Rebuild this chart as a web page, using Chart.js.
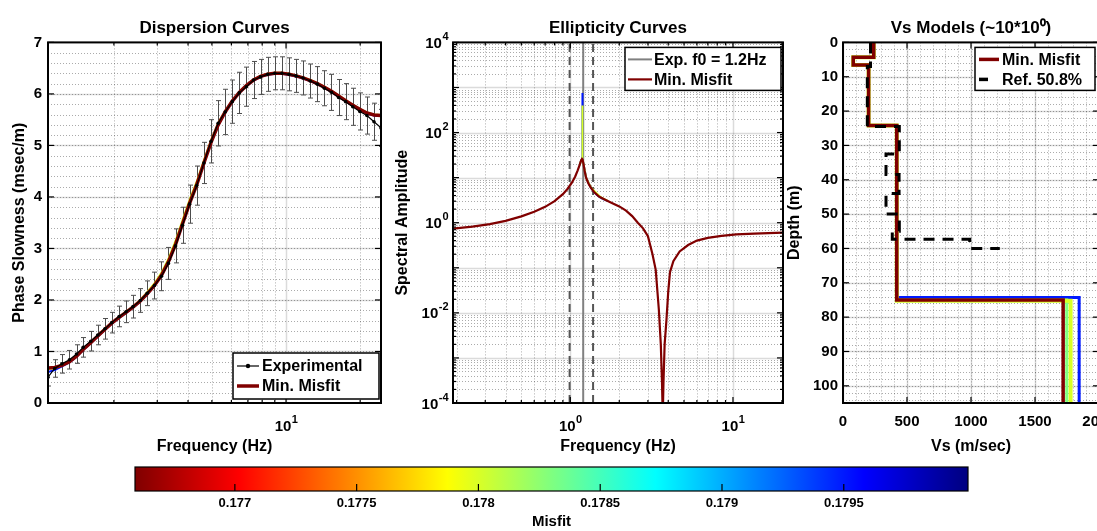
<!DOCTYPE html>
<html lang="en">
<head>
<meta charset="UTF-8">
<title>Inversion Results</title>
<script src="https://cdn.jsdelivr.net/npm/chart.js"></script>
<style>
    html, body { margin: 0; padding: 0; background: #fff; overflow: hidden; }
    #wrap { position: relative; width: 1097px; height: 531px; overflow: hidden; }
    canvas { position: absolute; }
    #dispChart { left: 0; top: 0; }
    #ellChart { left: 385px; top: 0; }
    #vsChart { left: 780px; top: 0; }
    #cbarChart { left: 100px; top: 455px; }
</style>
</head>
<body>
<div id="wrap">
    <canvas id="dispChart" width="395" height="460"></canvas>
    <canvas id="ellChart" width="405" height="460"></canvas>
    <canvas id="vsChart" width="330" height="460"></canvas>
    <canvas id="cbarChart" width="900" height="76"></canvas>
</div>
<script>
// ---- misfit range (colour scale) ----
const misfitMin = 0.17659;
const misfitMax = 0.18001;
const cbarTicks = [0.177, 0.1775, 0.178, 0.1785, 0.179, 0.1795];
const bestMisfit = 0.17659;
const altMisfit = [0.1780, 0.1783, 0.1795];   // yellow, green, blue models

// ---- dispersion: experimental picks ----
const dispFreq = [1.08, 1.15, 1.23, 1.32, 1.41, 1.5, 1.61, 1.72, 1.84, 1.96, 2.1, 2.24, 2.39, 2.56, 2.73, 2.92,
    3.12, 3.33, 3.56, 3.8, 4.06, 4.34, 4.64, 4.96, 5.3, 5.66, 6.05, 6.46, 6.9, 7.38, 7.88, 8.42,
    9.0, 9.62, 10.28, 10.98, 11.73, 12.54, 13.4, 14.31, 15.29, 16.34, 17.46, 18.66, 19.93, 21.3, 22.76, 24.3];
const expSlow = [0.50, 0.67, 0.76, 0.84, 0.95, 1.08, 1.2, 1.32, 1.44, 1.56, 1.68, 1.77, 1.87, 1.99, 2.13, 2.28,
    2.46, 2.71, 3.05, 3.45, 3.86, 4.22, 4.66, 5.08, 5.43, 5.65, 5.85, 6.02, 6.14, 6.27, 6.33, 6.38,
    6.40, 6.40, 6.38, 6.35, 6.31, 6.25, 6.19, 6.11, 6.03, 5.93, 5.85, 5.75, 5.66, 5.58, 5.46, 5.34];
const expErr = [0.17, 0.17, 0.18, 0.18, 0.18, 0.19, 0.19, 0.19, 0.2, 0.2, 0.2, 0.21, 0.22, 0.23, 0.24, 0.26,
    0.28, 0.31, 0.33, 0.35, 0.37, 0.38, 0.4, 0.42, 0.44, 0.44, 0.42, 0.4, 0.38, 0.36, 0.34, 0.33,
    0.32, 0.32, 0.32, 0.32, 0.33, 0.33, 0.34, 0.34, 0.35, 0.35, 0.35, 0.36, 0.36, 0.36, 0.36, 0.36];
// theoretical curves of the models
const bestSlow = [0.68, 0.69, 0.73, 0.8, 0.91, 1.04, 1.17, 1.3, 1.43, 1.55, 1.66, 1.76, 1.86, 1.98, 2.12, 2.28,
    2.48, 2.74, 3.08, 3.48, 3.88, 4.24, 4.66, 5.06, 5.4, 5.65, 5.86, 6.03, 6.16, 6.27, 6.34, 6.38,
    6.40, 6.40, 6.38, 6.35, 6.31, 6.26, 6.2, 6.13, 6.05, 5.96, 5.87, 5.78, 5.70, 5.63, 5.59, 5.58];
const yellowSlow = [0.66, 0.68, 0.73, 0.81, 0.92, 1.05, 1.18, 1.31, 1.44, 1.56, 1.67, 1.77, 1.87, 2.0, 2.15, 2.32,
    2.53, 2.8, 3.15, 3.55, 3.95, 4.3, 4.71, 5.1, 5.43, 5.67, 5.87, 6.04, 6.17, 6.28, 6.35, 6.39,
    6.41, 6.41, 6.39, 6.36, 6.32, 6.27, 6.21, 6.14, 6.06, 5.97, 5.88, 5.79, 5.71, 5.64, 5.6, 5.59];
const blueSlow = [0.6, 0.64, 0.71, 0.79, 0.9, 1.03, 1.16, 1.29, 1.42, 1.54, 1.65, 1.75, 1.85, 1.97, 2.11, 2.27,
    2.47, 2.73, 3.07, 3.47, 3.87, 4.23, 4.65, 5.05, 5.39, 5.64, 5.85, 6.02, 6.15, 6.26, 6.33, 6.37,
    6.39, 6.39, 6.37, 6.34, 6.30, 6.25, 6.19, 6.12, 6.04, 5.95, 5.86, 5.77, 5.69, 5.62, 5.58, 5.57];

// ---- ellipticity ----
const f0Exp = 1.2;
const f0Low = 0.99;
const f0High = 1.38;
const ellFreq = [0.19, 0.25, 0.32, 0.4, 0.5, 0.6, 0.7, 0.8, 0.9, 0.96, 1.02, 1.07, 1.11, 1.14, 1.165, 1.18, 1.19,
    1.205, 1.225, 1.25, 1.29, 1.34, 1.4, 1.5, 1.65, 1.8, 2.0, 2.2, 2.4, 2.6, 2.8, 3.0, 3.2, 3.35, 3.5,
    3.6, 3.66, 3.7, 3.74, 3.8, 3.9, 4.0, 4.1, 4.3, 4.7, 5.3, 6.0, 7.0, 8.5, 10.5, 13.5, 16.5, 20.3];
const ellAmp = [0.74, 0.82, 0.93, 1.1, 1.38, 1.75, 2.25, 3.0, 4.3, 5.6, 7.6, 10.5, 14.5, 19, 24, 26, 25,
    20, 14, 10, 7.5, 5.9, 4.8, 3.8, 3.2, 2.75, 2.3, 1.85, 1.4, 1.0, 0.75, 0.5, 0.2, 0.09, 0.012,
    0.002, 0.0003, 0.00005, 0.0003, 0.002, 0.007, 0.03, 0.08, 0.14, 0.23, 0.32, 0.4, 0.46, 0.51, 0.55, 0.57, 0.59, 0.6];
const altEllFreq = [1.14, 1.165, 1.18, 1.185, 1.19, 1.205, 1.25, 1.34, 1.45, 1.55, 1.7];
const yellowAmp = [19, 24, 26, 400, 25, 20, 10, 6.0, 4.5, 3.6, 3.05];
const blueAmp = [19, 24, 26, 750, 25, 20, 10, 5.9, 4.2, 3.5, 3.0];

// ---- Vs profiles (layer top depth in m, Vs in m/s) ----
const maxDepth = 105;
const bestTop = [0, 4.3, 6.6, 24.2, 75];
const bestVs = [240, 80, 200, 420, 1720];
const altHalfTop = [75.2, 75, 74.3];
const altHalfVs = [1778, 1748, 1845];
const refTop = [0, 7, 24.5, 32.5, 38.5, 44, 50, 55, 57.3, 60];
const refVs = [215, 190, 440, 336, 438, 336, 440, 385, 990, 1225];

const FONT = '"Liberation Sans", Arial, Helvetica, sans-serif';
const bold = size => ({ family: FONT, size: size, weight: 'bold' });

// reversed jet: low misfit -> dark red, high -> dark blue
function jet(v) {
    let t = 1 - (v - misfitMin) / (misfitMax - misfitMin);
    t = Math.min(1, Math.max(0, t));
    const c = k => Math.round(255 * Math.min(1, Math.max(0, 1.5 - Math.abs(4 * t - k))));
    return 'rgb(' + c(3) + ',' + c(2) + ',' + c(1) + ')';
}

function steps(a, b, d) {
    const r = [];
    for (let v = a; v <= b + 1e-9; v += d) r.push(+v.toFixed(6));
    return r;
}
function logMinors(lo, hi) {
    const r = [];
    for (let e = Math.floor(Math.log10(lo)); e <= Math.ceil(Math.log10(hi)); e++) {
        for (let k = 2; k <= 9; k++) {
            const v = k * Math.pow(10, e);
            if (v > lo && v < hi) r.push(v);
        }
    }
    return r;
}
const xy = (xs, ys) => xs.map((x, i) => ({ x: x, y: ys[i] }));

// step profile from layer tops / velocities
function profile(tops, vs, bottom) {
    const pts = [];
    tops.forEach((t, i) => {
        const next = i + 1 < tops.length ? tops[i + 1] : bottom;
        pts.push({ x: vs[i], y: t }, { x: vs[i], y: next });
    });
    return pts;
}

// MATLAB style grid, inward ticks and box
const axesBox = {
    id: 'axesBox',
    beforeDatasetsDraw(chart, args, o) {
        if (!o.grid) return;
        const { ctx, chartArea: a, scales: { x, y } } = chart;
        ctx.save();
        ctx.beginPath(); ctx.rect(a.left, a.top, a.width, a.height); ctx.clip();
        const vl = v => { const p = Math.round(x.getPixelForValue(v)) + 0.5; ctx.beginPath(); ctx.moveTo(p, a.top); ctx.lineTo(p, a.bottom); ctx.stroke(); };
        const hl = v => { const p = Math.round(y.getPixelForValue(v)) + 0.5; ctx.beginPath(); ctx.moveTo(a.left, p); ctx.lineTo(a.right, p); ctx.stroke(); };
        ctx.lineWidth = 1;
        ctx.strokeStyle = 'rgba(0,0,0,0.33)';
        ctx.setLineDash([1, 2]);
        o.xMinor.forEach(vl); o.yMinor.forEach(hl);
        ctx.setLineDash([]);
        ctx.lineWidth = 1.5;
        ctx.strokeStyle = 'rgba(0,0,0,0.14)';
        o.xMajor.forEach(vl); o.yMajor.forEach(hl);
        ctx.restore();
    },
    afterDatasetsDraw(chart, args, o) {
        const { ctx, chartArea: a, scales: { x, y } } = chart;
        ctx.save();
        ctx.strokeStyle = '#000';
        ctx.lineWidth = 1.2;
        const seg = (x1, y1, x2, y2) => { ctx.beginPath(); ctx.moveTo(x1, y1); ctx.lineTo(x2, y2); ctx.stroke(); };
        const xt = (vals, len) => vals.forEach(v => {
            const p = x.getPixelForValue(v);
            seg(p, a.bottom, p, a.bottom - len);
            if (!o.bottomOnly) seg(p, a.top, p, a.top + len);
        });
        const yt = (vals, len) => vals.forEach(v => {
            const p = y.getPixelForValue(v);
            seg(a.left, p, a.left + len, p);
            seg(a.right, p, a.right - len, p);
        });
        xt(o.xMajor, o.tick);
        if (o.xMinorTicks) xt(o.xMinor, o.tick / 2);
        if (o.yMajor.length) yt(o.yMajor, o.tick);
        if (o.yMinorTicks) yt(o.yMinor, o.tick / 2);
        ctx.lineWidth = o.frame;
        ctx.strokeRect(a.left, a.top, a.width, a.height);
        ctx.restore();
    }
};

// "10^n" tick labels with a raised exponent for the log axes
const powLabels = {
    id: 'powLabels',
    afterDraw(chart, args, o) {
        const { ctx, chartArea: a, scales } = chart;
        const big = 'bold 15px ' + FONT, small = 'bold 11px ' + FONT;
        ctx.save();
        ctx.fillStyle = '#000';
        ctx.textAlign = 'left';
        ctx.textBaseline = 'alphabetic';
        const draw = (v, cx, baseY, centered) => {
            const e = String(Math.round(Math.log10(v)));
            ctx.font = big; const w1 = ctx.measureText('10').width;
            ctx.font = small; const w2 = ctx.measureText(e).width;
            const left = centered ? cx - (w1 + w2) / 2 : cx - w1 - w2;
            ctx.font = big; ctx.fillText('10', left, baseY);
            ctx.font = small; ctx.fillText(e, left + w1 + 0.5, baseY - 8);
        };
        (o.x || []).forEach(v => draw(v, scales.x.getPixelForValue(v), a.bottom + 28, true));
        (o.y || []).forEach(v => draw(v, a.left - 5, scales.y.getPixelForValue(v) + 5.5, false));
        ctx.restore();
    }
};

// vertical error bars of the experimental curve
const errorBars = {
    id: 'errorBars',
    beforeDatasetsDraw(chart, args, o) {
        const { ctx, chartArea: a, scales: { x, y } } = chart;
        ctx.save();
        ctx.beginPath(); ctx.rect(a.left, a.top, a.width, a.height); ctx.clip();
        ctx.strokeStyle = '#4d4d4d';
        ctx.lineWidth = 1;
        o.x.forEach((f, i) => {
            const px = Math.round(x.getPixelForValue(f)) + 0.5;
            const lo = y.getPixelForValue(o.y[i] - o.err[i]);
            const hi = y.getPixelForValue(o.y[i] + o.err[i]);
            ctx.beginPath();
            ctx.moveTo(px, lo); ctx.lineTo(px, hi);
            ctx.moveTo(px - 2.5, lo); ctx.lineTo(px + 2.5, lo);
            ctx.moveTo(px - 2.5, hi); ctx.lineTo(px + 2.5, hi);
            ctx.stroke();
        });
        ctx.restore();
    }
};

// boxed legend inside the axes
const boxLegend = {
    id: 'boxLegend',
    afterDraw(chart, args, o) {
        const { ctx, chartArea: a } = chart;
        const x0 = a.right - o.right - o.w;
        const y0 = o.fromBottom ? a.bottom - o.offset - o.h : a.top + o.offset;
        ctx.save();
        ctx.fillStyle = '#fff';
        ctx.fillRect(x0, y0, o.w, o.h);
        ctx.strokeStyle = '#000';
        ctx.lineWidth = 1.5;
        ctx.strokeRect(x0, y0, o.w, o.h);
        ctx.font = 'bold 16px ' + FONT;
        ctx.textBaseline = 'middle';
        ctx.fillStyle = '#000';
        o.items.forEach((it, i) => {
            const cy = y0 + o.pad + o.row * (i + 0.5);
            const sx = x0 + o.sampleX;
            ctx.strokeStyle = it.color;
            ctx.lineWidth = it.width;
            ctx.setLineDash(it.dash ? it.dash : []);
            ctx.beginPath(); ctx.moveTo(sx, cy); ctx.lineTo(sx + o.sample, cy); ctx.stroke();
            ctx.setLineDash([]);
            if (it.dot) {
                ctx.fillStyle = it.color;
                ctx.beginPath(); ctx.arc(sx + o.sample / 2, cy, 2.2, 0, Math.PI * 2); ctx.fill();
            }
            ctx.fillStyle = '#000';
            ctx.fillText(it.text, x0 + o.textX, cy + 1);
        });
        ctx.restore();
    }
};

function axis(opt) {
    return {
        type: opt.type, min: opt.min, max: opt.max, reverse: !!opt.reverse,
        grid: { display: false, drawTicks: false },
        border: { display: false },
        ticks: { autoSkip: false, maxRotation: 0, padding: opt.pad, color: '#000', font: bold(opt.font || 15), callback: opt.fmt },
        title: { display: !!opt.title, text: opt.title, color: '#000', font: bold(opt.titleFont || 16), padding: opt.titlePad || { top: 4, bottom: 4 } },
        afterBuildTicks: s => { s.ticks = opt.labels.map(v => ({ value: v })); },
        afterFit: s => {
            if (s.isHorizontal()) s.height = opt.size; else s.width = opt.size;
            s.paddingLeft = 0; s.paddingRight = 0; s.paddingTop = 0; s.paddingBottom = 0;
        }
    };
}
const noLabel = () => '';

function panelTitle(text) {
    return { display: true, text: text, color: '#000', font: bold(17), padding: { top: 0, bottom: 4 }, fullSize: false };
}

const line = (data, color, width, order, extra) => Object.assign({
    data: data, showLine: true, borderColor: color, backgroundColor: color,
    borderWidth: width, pointRadius: 0, order: order
}, extra || {});

const base = { responsive: false, animation: false, events: [] };

// Dispersion curves
const dispXLabels = [10];
new Chart(document.getElementById('dispChart'), {
    type: 'scatter',
    data: {
        datasets: [
            line(xy(dispFreq, expSlow), '#000', 1.2, 0, { pointRadius: 1.8, pointBorderWidth: 0, pointBackgroundColor: '#000' }),
            line(xy(dispFreq, bestSlow), jet(bestMisfit), 3.5, 1),
            line(xy(dispFreq, yellowSlow), jet(altMisfit[0]), 2, 2),
            line(xy(dispFreq, blueSlow), jet(altMisfit[2]), 2, 3)
        ]
    },
    options: Object.assign({}, base, {
        layout: { padding: { left: 6, right: 14, top: 18, bottom: 0 } },
        plugins: {
            legend: { display: false }, tooltip: { enabled: false },
            title: panelTitle('Dispersion Curves'),
            axesBox: { grid: true, xMajor: [10], xMinor: logMinors(1.08, 24.3), yMajor: steps(0, 7, 1), yMinor: steps(0, 7, 0.2),
                tick: 6, xMinorTicks: true, frame: 2 },
            powLabels: { x: dispXLabels },
            errorBars: { x: dispFreq, y: expSlow, err: expErr },
            boxLegend: { w: 146, h: 46, right: 2, offset: 4, fromBottom: true, pad: 3, row: 20, sampleX: 4, sample: 22, textX: 29,
                items: [
                    { text: 'Experimental', color: '#000', width: 1.2, dot: true },
                    { text: 'Min. Misfit', color: jet(bestMisfit), width: 3.5 }
                ] }
        },
        scales: {
            x: axis({ type: 'logarithmic', min: 1.08, max: 24.3, labels: dispXLabels, fmt: noLabel, pad: 11, size: 57, title: 'Frequency (Hz)' }),
            y: axis({ type: 'linear', min: 0, max: 7, labels: steps(0, 7, 1), fmt: v => String(v), pad: 6, size: 42, title: 'Phase Slowness (msec/m)' })
        }
    }),
    plugins: [axesBox, errorBars, boxLegend, powLabels]
});

// Ellipticity curves
const ellXLabels = [1, 10];
const ellYLabels = [1e-4, 1e-2, 1, 1e2, 1e4];
new Chart(document.getElementById('ellChart'), {
    type: 'scatter',
    data: {
        datasets: [
            line(xy(ellFreq, ellAmp), jet(bestMisfit), 2.2, 0),
            line(xy(altEllFreq, yellowAmp), jet(altMisfit[0]), 2, 2),
            line(xy(altEllFreq, blueAmp), jet(altMisfit[2]), 2, 3),
            line(xy([f0Exp, f0Exp], [1e-4, 1e4]), '#808080', 2, 5),
            line(xy([f0Low, f0Low], [1e-4, 1e4]), '#555', 2, 6, { borderDash: [8, 5] }),
            line(xy([f0High, f0High], [1e-4, 1e4]), '#555', 2, 6, { borderDash: [8, 5] })
        ]
    },
    options: Object.assign({}, base, {
        layout: { padding: { left: 4, right: 7, top: 18, bottom: 0 } },
        plugins: {
            legend: { display: false }, tooltip: { enabled: false },
            title: panelTitle('Ellipticity Curves'),
            axesBox: { grid: true, xMajor: [1, 10], xMinor: logMinors(0.19, 20.3), yMajor: steps(-4, 4, 1).map(e => Math.pow(10, e)),
                yMinor: logMinors(1e-4, 1e4), tick: 6, xMinorTicks: true, yMinorTicks: true, frame: 2 },
            powLabels: { x: ellXLabels, y: ellYLabels },
            boxLegend: { w: 156, h: 43, right: 2, offset: 5, fromBottom: false, pad: 2, row: 20, sampleX: 3, sample: 24, textX: 29,
                items: [
                    { text: 'Exp. f0 = ' + f0Exp + 'Hz', color: '#808080', width: 2 },
                    { text: 'Min. Misfit', color: jet(bestMisfit), width: 2.2 }
                ] }
        },
        scales: {
            x: axis({ type: 'logarithmic', min: 0.19, max: 20.3, labels: ellXLabels, fmt: noLabel, pad: 11, size: 57, title: 'Frequency (Hz)' }),
            y: axis({ type: 'logarithmic', min: 1e-4, max: 1e4, labels: ellYLabels, fmt: noLabel, pad: 5, size: 64, title: 'Spectral Amplitude' })
        }
    }),
    plugins: [axesBox, boxLegend, powLabels]
});

// Vs models
const altProfiles = altMisfit.map((m, i) =>
    line(profile(bestTop.slice(0, 4).concat([altHalfTop[i]]), bestVs.slice(0, 4).concat([altHalfVs[i]]), maxDepth),
        jet(m), i === 0 ? 4 : 3, 3 + i));
new Chart(document.getElementById('vsChart'), {
    type: 'scatter',
    data: {
        datasets: [
            line(profile(refTop, refVs, refTop[refTop.length - 1]), '#000', 3, 0, { borderDash: [11, 8] }),
            line(profile(bestTop, bestVs, maxDepth), jet(bestMisfit), 3.5, 1)
        ].concat(altProfiles)
    },
    options: Object.assign({}, base, {
        layout: { padding: { left: 1, right: 11, top: 18, bottom: 0 } },
        plugins: {
            legend: { display: false }, tooltip: { enabled: false },
            title: panelTitle('Vs Models (~10*10\u2070)'),
            axesBox: { grid: true, xMajor: steps(0, 2000, 500), xMinor: steps(0, 2000, 100), yMajor: steps(0, 100, 10), yMinor: steps(0, 104, 2),
                tick: 6, frame: 2 },
            boxLegend: { w: 120, h: 43, right: 4, offset: 5, fromBottom: false, pad: 2, row: 20, sampleX: 4, sample: 20, textX: 27,
                items: [
                    { text: 'Min. Misfit', color: jet(bestMisfit), width: 3.5 },
                    { text: 'Ref. 50.8%', color: '#000', width: 3.5, dash: [9, 14] }
                ] }
        },
        scales: {
            x: axis({ type: 'linear', min: 0, max: 2000, labels: steps(0, 2000, 500), fmt: v => String(v), pad: 10, size: 57, title: 'Vs (m/sec)' }),
            y: axis({ type: 'linear', min: 0, max: maxDepth, reverse: true, labels: steps(0, 100, 10), fmt: v => String(v), pad: 5, size: 62, title: 'Depth (m)' })
        }
    }),
    plugins: [axesBox, boxLegend]
});

// Colour bar
function jetGradient(chart) {
    const a = chart.chartArea;
    if (!a) return null;
    const g = chart.ctx.createLinearGradient(a.left, 0, a.right, 0);
    for (let i = 0; i <= 64; i++) g.addColorStop(i / 64, jet(misfitMin + (misfitMax - misfitMin) * i / 64));
    return g;
}
new Chart(document.getElementById('cbarChart'), {
    type: 'bar',
    data: {
        labels: ['Misfit'],
        datasets: [{ data: [[misfitMin, misfitMax]], backgroundColor: c => jetGradient(c.chart), borderWidth: 0, barPercentage: 1, categoryPercentage: 1 }]
    },
    options: Object.assign({}, base, {
        indexAxis: 'y',
        layout: { padding: { left: 35, right: 32, top: 12, bottom: 0 } },
        plugins: {
            legend: { display: false }, tooltip: { enabled: false },
            axesBox: { grid: false, xMajor: cbarTicks, xMinor: [], yMajor: [], yMinor: [], tick: 7, bottomOnly: true, frame: 1.2 }
        },
        scales: {
            x: axis({ type: 'linear', min: misfitMin, max: misfitMax, labels: cbarTicks, fmt: v => String(v), pad: 5, size: 40, font: 13,
                title: 'Misfit', titleFont: 15, titlePad: { top: 0, bottom: 0 } }),
            y: { display: false }
        }
    }),
    plugins: [axesBox]
});
</script>
</body>
</html>
